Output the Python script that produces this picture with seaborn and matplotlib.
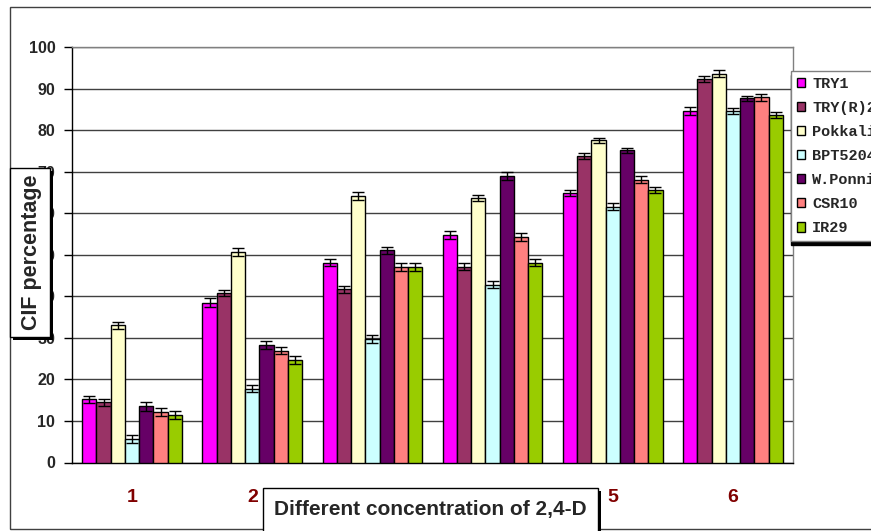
import numpy as np
import pandas as pd
import matplotlib
matplotlib.use("Agg")
import matplotlib.pyplot as plt
from matplotlib.patches import Rectangle
import seaborn as sns

# datos (% CIF)
concentrations = ['1', '2', '3', '4', '5', '6']
varieties = ['TRY1', 'TRY(R)2', 'Pokkali', 'BPT5204', 'W.Ponni', 'CSR10', 'IR29']

try1 = [15.2, 38.5, 48.1, 54.7, 64.9, 84.6]
try_r2 = [14.5, 40.8, 41.7, 47.1, 73.8, 92.3]
pokkali = [33.0, 50.7, 64.2, 63.7, 77.5, 93.6]
bpt5204 = [5.6, 17.8, 29.7, 42.8, 61.6, 84.6]
w_ponni = [13.5, 28.3, 51.1, 68.9, 75.1, 87.7]
csr10 = [12.2, 26.9, 47.1, 54.3, 68.1, 87.9]
ir29 = [11.5, 24.6, 47.1, 48.1, 65.5, 83.6]

err_try1 = [0.9, 1.0, 0.8, 0.9, 0.7, 0.9]
err_try_r2 = [0.8, 0.7, 0.8, 0.8, 0.8, 0.8]
err_pokkali = [0.8, 0.9, 1.0, 0.8, 0.7, 0.8]
err_bpt5204 = [0.9, 0.9, 0.9, 0.9, 0.9, 0.7]
err_w_ponni = [1.1, 0.9, 0.8, 1.0, 0.7, 0.6]
err_csr10 = [1.0, 0.8, 0.9, 0.9, 0.9, 0.9]
err_ir29 = [1.0, 1.0, 0.9, 0.9, 0.7, 0.8]

colors = ['#FF00FF', '#993366', '#FFFFCC', '#CCFFFF', '#660066', '#FF8080', '#99CC00']

values = [try1, try_r2, pokkali, bpt5204, w_ponni, csr10, ir29]
errors = [err_try1, err_try_r2, err_pokkali, err_bpt5204, err_w_ponni, err_csr10, err_ir29]

datos = pd.DataFrame({
    'conc': np.tile(concentrations, len(varieties)),
    'variety': np.repeat(varieties, len(concentrations)),
    'cif': np.concatenate(values),
})

W, H = 871, 531
def fx(px):
    return px / W
def fy(py):
    return 1 - py / H

sns.set_style('white')
plt.rcParams['font.family'] = ['Liberation Sans', 'DejaVu Sans']

fig = plt.figure(figsize=(W / 100, H / 100), dpi=100)
ax = fig.add_axes([fx(72), fy(462.5), fx(793) - fx(72), fy(47) - fy(462.5)])

sns.barplot(data=datos, x='conc', y='cif', hue='variety', order=concentrations,
            hue_order=varieties, palette=colors, errorbar=None, width=0.83,
            edgecolor='black', linewidth=1, saturation=1, ax=ax, zorder=3)

# barras de error sobre cada barra
for cont, err in zip(ax.containers, errors):
    xs = [b.get_x() + b.get_width() / 2 for b in cont]
    ys = [b.get_height() for b in cont]
    ax.errorbar(xs, ys, yerr=err, fmt='none', ecolor='black', elinewidth=1,
                capsize=4, capthick=1, zorder=4)

ax.set_ylim(0, 100)
ax.set_xlim(-0.5, 5.5)
ax.set_yticks(np.arange(0, 101, 10))
ax.yaxis.grid(True, color='#404040', linewidth=1)
ax.set_axisbelow(True)
ax.set_xlabel('')
ax.set_ylabel('')

ax.set_xticks(np.arange(-0.5, 6, 1), minor=True)
ax.tick_params(axis='x', which='major', length=0, pad=19, labelsize=14,
               labelcolor='#800000')
ax.tick_params(axis='x', which='minor', length=7, width=1, color='black', direction='out')
ax.tick_params(axis='y', length=6, width=1, color='black', direction='out',
               pad=6, labelsize=11.5)
ax.tick_params(left=True, bottom=True)
for lab in ax.get_xticklabels() + ax.get_yticklabels():
    lab.set_fontweight('bold')

for s in ['left', 'bottom']:
    ax.spines[s].set_color('black')
    ax.spines[s].set_linewidth(1)
for s in ['top', 'right']:
    ax.spines[s].set_color('#808080')
    ax.spines[s].set_linewidth(1)

handles, labels = ax.get_legend_handles_labels()
ax.legend(handles, labels, loc='upper left', bbox_to_anchor=(fx(791), fy(71)),
          bbox_transform=fig.transFigure, borderaxespad=0, frameon=True,
          fancybox=False, shadow={'color': 'black', 'alpha': 1, 'ox': 0, 'oy': -3},
          prop={'family': 'Liberation Mono', 'weight': 'bold', 'size': 11},
          handlelength=0.55, handleheight=0.55, handletextpad=0.45,
          labelspacing=0.66, borderpad=0.38, edgecolor='#808080')
ax.get_legend().get_frame().set_linewidth(1)

# marco exterior del grafico
fig.add_artist(Rectangle((fx(10), fy(529)), 1.0, fy(7) - fy(529), fill=False,
                         edgecolor='#404040', linewidth=1, transform=fig.transFigure))

# caja del titulo del eje y
fig.add_artist(Rectangle((fx(13), fy(340)), fx(53) - fx(13), fy(171) - fy(340),
                         facecolor='black', edgecolor='none', transform=fig.transFigure))
fig.add_artist(Rectangle((fx(10), fy(337)), fx(50) - fx(10), fy(168) - fy(337),
                         facecolor='white', edgecolor='black', linewidth=1,
                         transform=fig.transFigure))
fig.text(fx(31), fy(252), 'CIF percentage', rotation=90, ha='center', va='center',
         fontsize=15.5, fontweight='bold')

# caja del titulo del eje x
fig.add_artist(Rectangle((fx(266), fy(540)), fx(601) - fx(266), fy(491) - fy(540),
                         facecolor='black', edgecolor='none', transform=fig.transFigure))
fig.add_artist(Rectangle((fx(263), fy(537)), fx(598) - fx(263), fy(488) - fy(537),
                         facecolor='white', edgecolor='black', linewidth=1,
                         transform=fig.transFigure))
fig.text(fx(430.5), fy(509), 'Different concentration of 2,4-D', ha='center',
         va='center', fontsize=15, fontweight='bold')

fig.savefig('out.png', dpi=100)
